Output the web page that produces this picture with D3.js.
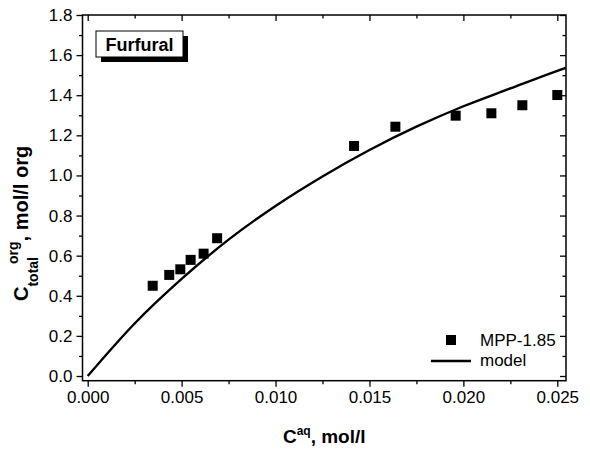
<!DOCTYPE html>
<html>
<head>
<meta charset="utf-8">
<script src="https://cdn.jsdelivr.net/npm/d3@7"></script>
<style>
  html, body { margin: 0; padding: 0; background: #fff; }
  svg { display: block; font-family: "Liberation Sans", Arial, sans-serif; }
</style>
</head>
<body>
<svg id="chart" width="590" height="452"></svg>
<script>
// Measured distribution data, furfural on MPP-1.85
const cAq    = [0.00346, 0.00434, 0.00493, 0.00548, 0.00617, 0.00689, 0.01418, 0.01638, 0.01959, 0.02149, 0.02314, 0.02500];
const cOrg   = [0.450, 0.504, 0.532, 0.579, 0.610, 0.687, 1.147, 1.243, 1.298, 1.310, 1.350, 1.401];

// Model curve, sampled along the aqueous concentration axis
const modelAq  = [0, 0.0025, 0.005, 0.0075, 0.010, 0.0125, 0.015, 0.0175, 0.020, 0.0225, 0.025, 0.02545];
const modelOrg = [0, 0.262, 0.484, 0.680, 0.848, 0.995, 1.127, 1.243, 1.345, 1.434, 1.522, 1.537];

const xTicks = [0.000, 0.005, 0.010, 0.015, 0.020, 0.025];
const xTickLabels = ["0.000", "0.005", "0.010", "0.015", "0.020", "0.025"];
const yTicks = [0.0, 0.2, 0.4, 0.6, 0.8, 1.0, 1.2, 1.4, 1.6, 1.8];
const yTickLabels = ["0.0", "0.2", "0.4", "0.6", "0.8", "1.0", "1.2", "1.4", "1.6", "1.8"];
const xMinor = [0.0025, 0.0075, 0.0125, 0.0175, 0.0225];
const yMinor = [0.1, 0.3, 0.5, 0.7, 0.9, 1.1, 1.3, 1.5, 1.7];

const seriesName = "MPP-1.85";
const modelName = "model";
const panelLabel = "Furfural";

const svg = d3.select("#chart");
const L = 82.5, R = 566, T = 15, B = 380.7;

const x = d3.scaleLinear().domain([-0.000277, 0.025463]).range([L, R]);
const y = d3.scaleLinear().domain([-0.0234, 1.8]).range([B, T]);

const black = "#000";
const majorLen = 6, minorLen = 3.5;

// Bottom axis: ticks outward, labelled
const bottom = svg.append("g").attr("transform", `translate(0,${B})`)
  .call(d3.axisBottom(x).tickValues(xTicks).tickSize(majorLen).tickPadding(4)
    .tickFormat((d, i) => xTickLabels[i]));
bottom.call(g => g.select(".domain").remove());
bottom.selectAll("text").attr("font-size", 17).attr("fill", black)
  .attr("font-family", "Liberation Sans, Arial, sans-serif");
svg.append("g").attr("transform", `translate(0,${B})`)
  .call(d3.axisBottom(x).tickValues(xMinor).tickSize(minorLen).tickFormat(""))
  .call(g => g.select(".domain").remove());

// Left axis: ticks outward, labelled
const left = svg.append("g").attr("transform", `translate(${L},0)`)
  .call(d3.axisLeft(y).tickValues(yTicks).tickSize(majorLen).tickPadding(4)
    .tickFormat((d, i) => yTickLabels[i]));
left.call(g => g.select(".domain").remove());
left.selectAll("text").attr("font-size", 17).attr("fill", black)
  .attr("font-family", "Liberation Sans, Arial, sans-serif");
svg.append("g").attr("transform", `translate(${L},0)`)
  .call(d3.axisLeft(y).tickValues(yMinor).tickSize(minorLen).tickFormat(""))
  .call(g => g.select(".domain").remove());

// Top axis: ticks inward, no labels
svg.append("g").attr("transform", `translate(0,${T})`)
  .call(d3.axisBottom(x).tickValues(xTicks).tickSize(majorLen).tickFormat(""))
  .call(g => g.select(".domain").remove());
svg.append("g").attr("transform", `translate(0,${T})`)
  .call(d3.axisBottom(x).tickValues(xMinor).tickSize(minorLen).tickFormat(""))
  .call(g => g.select(".domain").remove());

// Right axis: ticks inward, no labels
svg.append("g").attr("transform", `translate(${R},0)`)
  .call(d3.axisLeft(y).tickValues(yTicks).tickSize(majorLen).tickFormat(""))
  .call(g => g.select(".domain").remove());
svg.append("g").attr("transform", `translate(${R},0)`)
  .call(d3.axisLeft(y).tickValues(yMinor).tickSize(minorLen).tickFormat(""))
  .call(g => g.select(".domain").remove());

svg.selectAll(".tick line").attr("stroke", black).attr("stroke-width", 1.3);

// Clip region for the model curve
svg.append("clipPath").attr("id", "plotClip")
  .append("rect").attr("x", L).attr("y", T).attr("width", R - L).attr("height", B - T);

// Model curve
const line = d3.line().x(d => x(d[0])).y(d => y(d[1])).curve(d3.curveMonotoneX);
svg.append("path")
  .datum(modelAq.map((v, i) => [v, modelOrg[i]]))
  .attr("d", line)
  .attr("fill", "none").attr("stroke", black).attr("stroke-width", 2.4)
  .attr("clip-path", "url(#plotClip)");

// Data markers
const sz = 10;
svg.append("g").selectAll("rect")
  .data(cAq.map((v, i) => [v, cOrg[i]]))
  .join("rect")
  .attr("x", d => x(d[0]) - sz / 2)
  .attr("y", d => y(d[1]) - sz / 2)
  .attr("width", sz).attr("height", sz)
  .attr("fill", black);

// Frame
svg.append("rect").attr("x", L).attr("y", T).attr("width", R - L).attr("height", B - T)
  .attr("fill", "none").attr("stroke", black).attr("stroke-width", 1.5);

// Panel label with drop shadow
const lab = svg.append("g");
lab.append("rect").attr("x", 101).attr("y", 36).attr("width", 87).attr("height", 26).attr("fill", black);
lab.append("rect").attr("x", 96).attr("y", 31).attr("width", 87).attr("height", 26)
  .attr("fill", "#fff").attr("stroke", black).attr("stroke-width", 1);
lab.append("text").attr("x", 139.5).attr("y", 50.5).attr("text-anchor", "middle")
  .attr("font-size", 18).attr("font-weight", "bold").text(panelLabel);

// Legend
const lg = svg.append("g");
lg.append("rect").attr("x", 451 - sz / 2).attr("y", 340 - sz / 2).attr("width", sz).attr("height", sz).attr("fill", black);
lg.append("text").attr("x", 480).attr("y", 346).attr("font-size", 17).text(seriesName);
lg.append("line").attr("x1", 431).attr("x2", 471).attr("y1", 361).attr("y2", 361)
  .attr("stroke", black).attr("stroke-width", 2.4);
lg.append("text").attr("x", 480).attr("y", 366).attr("font-size", 17).text(modelName);

// X axis title
const xt = svg.append("text").attr("x", (L + R) / 2).attr("y", 443)
  .attr("text-anchor", "middle").attr("font-size", 19).attr("font-weight", "bold");
xt.append("tspan").text("C");
xt.append("tspan").attr("font-size", 12).attr("dy", -8).text("aq");
xt.append("tspan").attr("dy", 8).text(", mol/l");

// Y axis title, read bottom to top
const yt = svg.append("text")
  .attr("transform", `translate(28,301) rotate(-90)`)
  .attr("text-anchor", "start").attr("font-size", 20).attr("font-weight", "bold");
yt.append("tspan").text("C");
yt.append("tspan").attr("font-size", 14).attr("dy", 10).text("total");
yt.append("tspan").attr("font-size", 14).attr("dx", -7).attr("dy", -20.5).text("org");
yt.append("tspan").attr("dy", 10.5).text(", mol/l org");
</script>
</body>
</html>
